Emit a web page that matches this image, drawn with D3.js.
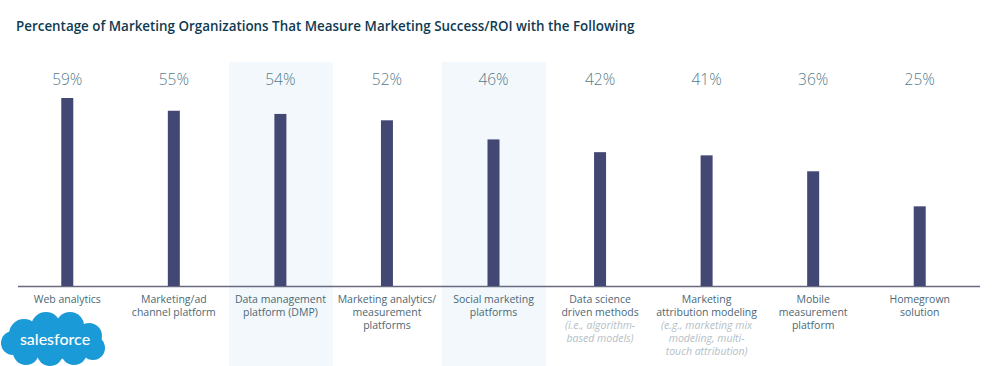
<!DOCTYPE html>
<html>
<head>
<meta charset="utf-8">
<script src="https://cdn.jsdelivr.net/npm/d3@7"></script>
<style>
  body { margin: 0; background: #fff; }
  svg { display: block; font-family: "Open Sans", "Noto Sans", sans-serif; }
</style>
</head>
<body>
<svg id="chart" width="997" height="366"></svg>
<script>
// chart data
const categories = [
  "Web analytics", "Marketing/ad channel platform", "Data management platform (DMP)",
  "Marketing analytics/ measurement platforms", "Social marketing platforms",
  "Data science driven methods", "Marketing attribution modeling",
  "Mobile measurement platform", "Homegrown solution"
];
const labelLines = [
  ["Web analytics"],
  ["Marketing/ad", "channel platform"],
  ["Data management", "platform (DMP)"],
  ["Marketing analytics/", "measurement", "platforms"],
  ["Social marketing", "platforms"],
  ["Data science", "driven methods"],
  ["Marketing", "attribution modeling"],
  ["Mobile", "measurement", "platform"],
  ["Homegrown", "solution"]
];
const noteLines = [
  [], [], [], [], [],
  ["(i.e., algorithm-", "based models)"],
  ["(e.g., marketing mix", "modeling, multi-", "touch attribution)"],
  [], []
];
const values = [59, 55, 54, 52, 46, 42, 41, 36, 25];
const highlighted = ["Data management platform (DMP)", "Social marketing platforms"];

const svg = d3.select("#chart");

const x = d3.scaleBand().domain(categories).range([14, 973]);
const y = d3.scaleLinear().domain([0, 59]).range([286, 98]);

// title
svg.append("text")
  .attr("x", 16)
  .attr("y", 31)
  .attr("fill", "#0e3a52")
  .attr("font-size", 13.4)
  .attr("font-weight", 600)
  .text("Percentage of Marketing Organizations That Measure Marketing Success/ROI with the Following");

// highlighted columns
svg.selectAll("rect.hl")
  .data(highlighted)
  .join("rect")
  .attr("class", "hl")
  .attr("x", (d) => x(d) + 2)
  .attr("y", 62)
  .attr("width", x.bandwidth() - 3)
  .attr("height", 366 - 62)
  .attr("fill", "#f2f8fb");

// baseline
svg.append("line")
  .attr("x1", 18).attr("x2", 980)
  .attr("y1", 286.5).attr("y2", 286.5)
  .attr("stroke", "#686a80")
  .attr("stroke-width", 1.5);

const barW = 12;

svg.selectAll("rect.bar")
  .data(values)
  .join("rect")
  .attr("class", "bar")
  .attr("x", (d, i) => x(categories[i]) + x.bandwidth() / 2 - barW / 2)
  .attr("y", (d) => y(d))
  .attr("width", barW)
  .attr("height", (d) => y(0) - y(d))
  .attr("fill", "#434774");

// value labels
svg.selectAll("text.val")
  .data(values)
  .join("text")
  .attr("class", "val")
  .attr("x", (d, i) => x(categories[i]) + x.bandwidth() / 2)
  .attr("y", 85)
  .attr("text-anchor", "middle")
  .attr("fill", "#557d8b")
  .attr("font-size", 15.5)
  .attr("font-weight", 300)
  .text((d) => d + "%");

// category labels
const lab = svg.selectAll("g.lab")
  .data(categories)
  .join("g")
  .attr("class", "lab")
  .attr("transform", (d) => `translate(${x(d) + x.bandwidth() / 2},303)`);

lab.each(function (d, i) {
  const g = d3.select(this);
  labelLines[i].forEach((t, j) => {
    g.append("text")
      .attr("y", j * 13)
      .attr("text-anchor", "middle")
      .attr("font-size", 10.5)
      .attr("fill", "#4b6876")
      .text(t);
  });
  noteLines[i].forEach((t, j) => {
    g.append("text")
      .attr("y", (labelLines[i].length + j) * 13)
      .attr("text-anchor", "middle")
      .attr("font-size", 10.5)
      .attr("font-style", "italic")
      .attr("fill", "#b4c0c7")
      .text(t);
  });
});

// salesforce logo
const logo = svg.append("g").attr("transform", "translate(0,312)");
const blobs = [
  [24, 22, 15], [46, 15, 15], [70, 14, 14], [89, 24, 13],
  [93, 36, 12], [74, 40, 13], [50, 41, 13], [26, 40, 13],
  [13, 31, 12], [55, 28, 20]
];
logo.selectAll("circle")
  .data(blobs)
  .join("circle")
  .attr("cx", (d) => d[0])
  .attr("cy", (d) => d[1])
  .attr("r", (d) => d[2])
  .attr("fill", "#1a9ad6");
logo.append("text")
  .attr("x", 55)
  .attr("y", 33)
  .attr("text-anchor", "middle")
  .attr("fill", "#fff")
  .attr("font-size", 16)
  .attr("font-weight", 500)
  .attr("font-family", "Lato, 'Open Sans', sans-serif")
  .text("salesforce");
</script>
</body>
</html>
